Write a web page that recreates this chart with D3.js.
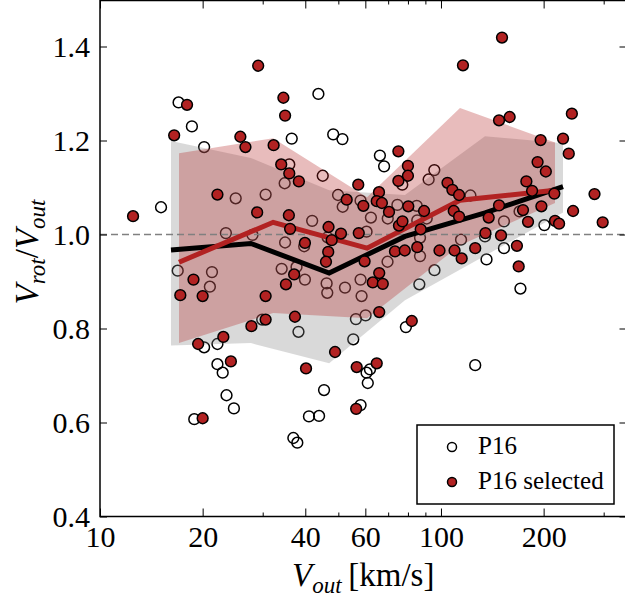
<!DOCTYPE html>
<html><head><meta charset="utf-8">
<script src="https://cdn.jsdelivr.net/npm/d3@7"></script>
<style>body{margin:0;background:#fff}</style>
</head><body>
<svg id="chart" width="625" height="605" font-family="Liberation Serif"></svg>
<script>
// ---------------- data ----------------
const p16Vout = [17.0,18.6,20.2,25.0,30.6,15.1,23.4,28.0,16.9,21.3,21.0,29.9,20.2,22.1,22.1,22.9,23.5,24.7,18.9,45.4,
  61.0,41.0,43.9,58.1,36.9,37.9,43.7,36.5,48.3,51.4,66.2,68.1,77.0,95.6,92.0,35.9,34.8,45.0,49.9,58.1,
  122,51.5,74.5,84.9,85.2,90.8,41.9,62.3,69.8,60.5,34.9,39.7,46.5,69.7,86.8,95.7,86.4,34.1,37.7,39.9,
  46.2,46.4,52.3,58.1,58.5,38.2,56.3,60.1,55.3,78.9,60.5,61.9,114.5,134.6,153,170,201,153,136,171,126,86.8];
const p16Ratio = [1.281,1.230,1.186,1.077,1.085,1.058,1.003,0.999,0.923,0.920,0.889,0.819,0.760,0.767,0.724,0.706,0.658,0.630,0.607,0.669,
  0.684,0.613,0.614,0.637,0.567,0.557,1.299,1.204,1.213,1.203,1.168,1.145,1.106,1.137,1.117,1.149,1.109,1.125,1.084,1.072,
  1.083,1.059,1.063,1.061,1.030,1.034,1.029,1.036,1.034,1.006,0.983,0.975,0.994,0.942,0.993,0.924,0.894,0.927,0.931,0.904,
  0.896,0.876,0.887,0.904,0.869,0.793,0.820,0.828,0.777,0.803,0.706,0.713,0.989,0.996,1.028,1.049,1.020,0.971,0.947,0.885,0.722,0.954];

const selVout = [29.1,18.0,16.5,25.8,26.7,32.3,22.1,12.5,28.9,18.8,17.2,20.0,30.6,30.6,27.8,23.0,19.4,24.2,20.0,56.4,
  116,34.5,34.9,75.0,80.0,80.0,75.0,104.5,108,113,34.0,35.9,38.3,57.2,52.9,65.8,59.2,64.8,67.1,80.2,
  89.2,109,113,35.8,36.1,46.8,50.9,57.4,70.4,75.3,77.1,87.2,39.9,47.8,46.7,46.0,59.7,73.3,78.3,85.2,
  99.0,109.6,115,37.1,35.1,63.1,67.5,65.9,37.3,65.9,82.1,48.9,40.2,56.6,64.8,151,148,159,242,196,
  228,237,192,203,178,282,185,215,244,298,216,222,197,174,180,148,138,135,150,126,167,169];
const selRatio = [1.359,1.276,1.211,1.208,1.186,1.190,1.085,1.039,1.047,0.904,0.871,0.869,0.869,0.819,0.805,0.782,0.767,0.730,0.609,0.629,
  1.360,1.291,1.253,1.177,1.146,1.125,1.114,1.110,1.095,1.084,1.149,1.130,1.113,1.106,1.074,1.090,1.061,1.071,1.067,1.060,
  1.050,1.050,1.038,1.041,1.012,1.016,1.002,1.003,1.048,1.019,1.028,1.011,0.982,0.988,0.963,0.942,0.943,0.964,0.966,0.973,
  0.966,0.966,0.949,0.915,0.894,0.898,0.895,0.918,0.825,0.835,0.816,0.750,0.715,0.718,0.726,1.419,1.243,1.250,1.257,1.201,
  1.204,1.172,1.154,1.134,1.113,1.086,1.093,1.087,1.050,1.026,1.029,1.023,1.060,1.052,1.027,1.062,1.036,1.003,0.998,0.971,0.976,0.932];

// binned medians and percentile bands
const allBinV   = [16.15, 27.7, 47.0, 78.4, 134.6, 228];
const allMedian = [0.967, 0.981, 0.918, 0.996, 1.046, 1.102];
const allLow    = [0.764, 0.769, 0.726, 0.860, 0.955, 1.047];
const allHigh   = [1.199, 1.163, 1.094, 1.084, 1.209, 1.194];

const selBinV   = [17.05, 32.2, 60.7, 113.7, 216];
const selMedian = [0.941, 1.026, 0.971, 1.073, 1.094];
const selLow    = [0.769, 0.833, 0.822, 0.977, 1.067];
const selHigh   = [1.173, 1.205, 1.079, 1.269, 1.196];

const xMajorTicks = [10, 20, 40, 60, 100, 200];
const xMinorTicks = [30, 50, 70, 80, 90, 300];
const yTicks = [0.4, 0.6, 0.8, 1.0, 1.2, 1.4];
const legendLabels = ["P16", "P16 selected"];

// ---------------- drawing ----------------
const RED = "#b22222";
const FONT = "Liberation Serif";
const svg = d3.select("#chart");
const L = 100, R = 626.5, T = 0.5, B = 516.5;
const x = d3.scaleLog().domain([10, 350]).range([L, R]);
const y = d3.scaleLinear().domain([0.4, 1.5]).range([B, T - 1]);

svg.append("defs").append("clipPath").attr("id", "clip")
  .append("rect").attr("x", L).attr("y", T).attr("width", R - L).attr("height", B - T);

const plot = svg.append("g").attr("clip-path", "url(#clip)");

const p16 = p16Vout.map((v, i) => ({v, r: p16Ratio[i]}));
const sel = selVout.map((v, i) => ({v, r: selRatio[i]}));
const allBand = allBinV.map((v, i) => ({v, lo: allLow[i], hi: allHigh[i], m: allMedian[i]}));
const selBand = selBinV.map((v, i) => ({v, lo: selLow[i], hi: selHigh[i], m: selMedian[i]}));

plot.append("g").selectAll("circle").data(p16).join("circle")
  .attr("cx", d => x(d.v)).attr("cy", d => y(d.r)).attr("r", 5.4)
  .attr("fill", "none").attr("stroke", "#000").attr("stroke-width", 1.5);

const area = d3.area().x(d => x(d.v)).y0(d => y(d.lo)).y1(d => y(d.hi));
plot.append("path").datum(allBand).attr("d", area).attr("fill", "#808080").attr("fill-opacity", 0.3);
plot.append("path").datum(selBand).attr("d", area).attr("fill", RED).attr("fill-opacity", 0.3);

plot.append("line").attr("x1", L).attr("x2", R).attr("y1", y(1)).attr("y2", y(1))
  .attr("stroke", "#808080").attr("stroke-width", 1.5).attr("stroke-dasharray", "7,4");

const line = d3.line().x(d => x(d.v)).y(d => y(d.m));
plot.append("path").datum(allBand).attr("d", line).attr("fill", "none")
  .attr("stroke", "#000").attr("stroke-width", 5);
plot.append("path").datum(selBand).attr("d", line).attr("fill", "none")
  .attr("stroke", RED).attr("stroke-width", 5);

plot.append("g").selectAll("circle").data(sel).join("circle")
  .attr("cx", d => x(d.v)).attr("cy", d => y(d.r)).attr("r", 5.4)
  .attr("fill", RED).attr("stroke", "#000").attr("stroke-width", 1.5);

// ---------------- axes ----------------
function styleAxis(g) {
  g.attr("font-family", FONT).attr("font-size", 30);
  g.select(".domain").remove();
  g.selectAll(".tick line").attr("stroke", "#000").attr("stroke-width", 1);
  g.selectAll("text").attr("fill", "#000").attr("font-family", FONT).attr("font-size", 30);
}
svg.append("g").attr("transform", `translate(0,${B})`)
  .call(d3.axisBottom(x).tickValues(xMajorTicks).tickFormat(d3.format("d")).tickSizeInner(-8).tickSizeOuter(0).tickPadding(9))
  .call(styleAxis);
svg.append("g").attr("transform", `translate(0,${B})`)
  .call(d3.axisBottom(x).tickValues(xMinorTicks).tickFormat("").tickSizeInner(-4).tickSizeOuter(0))
  .call(styleAxis);
svg.append("g").attr("transform", `translate(0,${T})`)
  .call(d3.axisTop(x).tickValues(xMajorTicks).tickFormat("").tickSizeInner(-8).tickSizeOuter(0))
  .call(styleAxis);
svg.append("g").attr("transform", `translate(0,${T})`)
  .call(d3.axisTop(x).tickValues(xMinorTicks).tickFormat("").tickSizeInner(-4).tickSizeOuter(0))
  .call(styleAxis);
svg.append("g").attr("transform", `translate(${L},0)`)
  .call(d3.axisLeft(y).tickValues(yTicks).tickFormat(d3.format(".1f")).tickSizeInner(-7).tickSizeOuter(0).tickPadding(10))
  .call(styleAxis);
svg.append("g").attr("transform", `translate(${R},0)`)
  .call(d3.axisRight(y).tickValues(yTicks).tickFormat("").tickSizeInner(-7).tickSizeOuter(0))
  .call(styleAxis);

svg.append("rect").attr("x", L).attr("y", T).attr("width", R - L).attr("height", B - T)
  .attr("fill", "none").attr("stroke", "#000").attr("stroke-width", 1.5);

// axis labels
const xl = svg.append("text").attr("x", (L + R) / 2).attr("y", 586).attr("text-anchor", "middle")
  .attr("font-size", 33).attr("font-family", FONT);
xl.append("tspan").attr("font-style", "italic").text("V");
xl.append("tspan").attr("font-style", "italic").attr("font-size", 23).attr("dy", 7).text("out");
xl.append("tspan").attr("dy", -7).text("\u2009[km/s]");

const yl = svg.append("text").attr("transform", "translate(38,252) rotate(-90)").attr("text-anchor", "middle")
  .attr("font-size", 33).attr("font-family", FONT);
yl.append("tspan").attr("font-style", "italic").text("V");
yl.append("tspan").attr("font-style", "italic").attr("font-size", 23).attr("dy", 7).text("rot");
yl.append("tspan").attr("dy", -7).text("/");
yl.append("tspan").attr("font-style", "italic").text("V");
yl.append("tspan").attr("font-style", "italic").attr("font-size", 23).attr("dy", 7).text("out");

// legend
const lg = svg.append("g").attr("font-family", FONT);
lg.append("rect").attr("x", 417).attr("y", 425).attr("width", 197).attr("height", 79)
  .attr("fill", "#fff").attr("stroke", "#000").attr("stroke-width", 1.5);
const legendRows = [
  {label: legendLabels[0], fill: "#fff", cy: 447, ty: 454},
  {label: legendLabels[1], fill: RED, cy: 482, ty: 489}
];
legendRows.forEach(r => {
  lg.append("circle").attr("cx", 452).attr("cy", r.cy).attr("r", 4.5)
    .attr("fill", r.fill).attr("stroke", "#000").attr("stroke-width", 1.5);
  lg.append("text").attr("x", 478).attr("y", r.ty).attr("font-size", 25).attr("font-family", FONT).text(r.label);
});
</script>
</body></html>
